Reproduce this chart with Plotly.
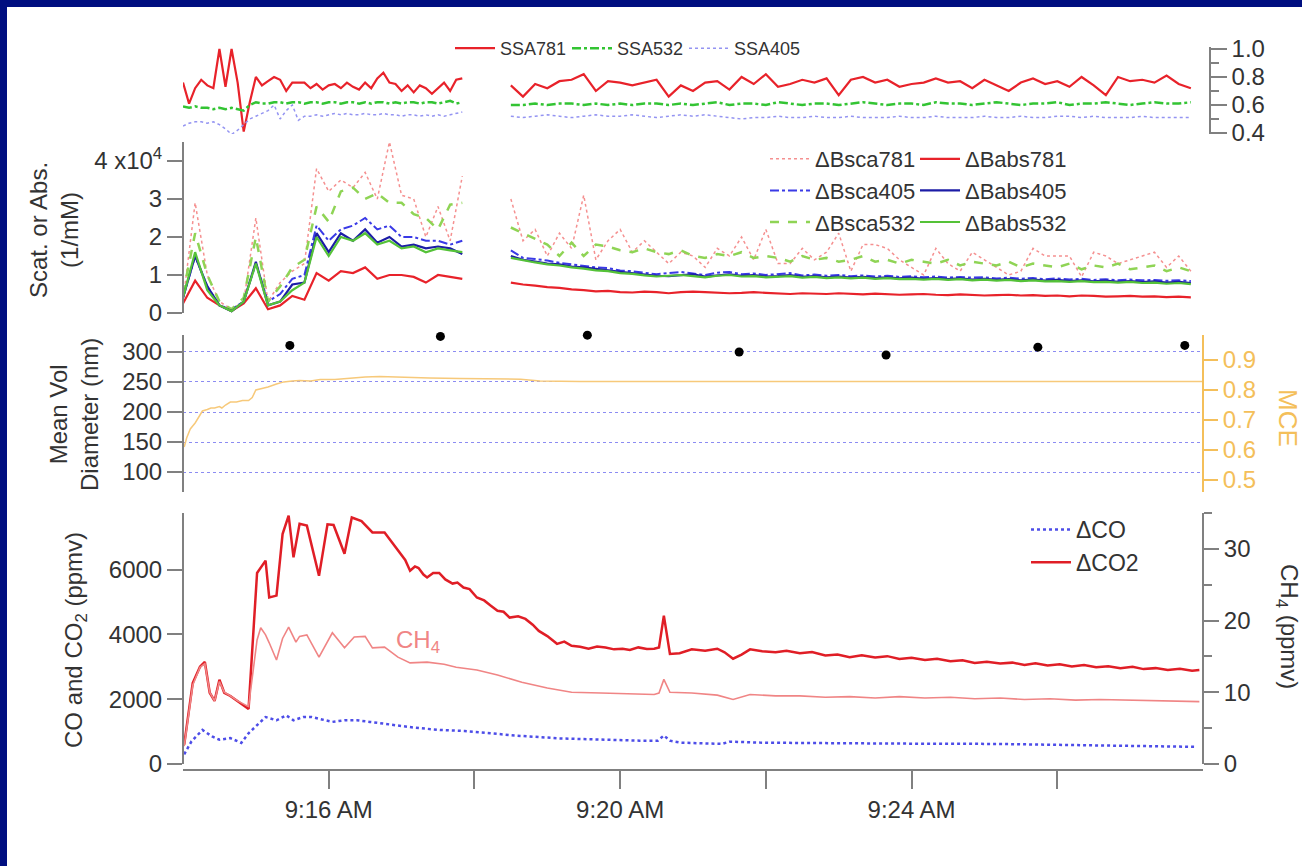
import plotly.graph_objects as go

W, H = 1302, 866

def tstr(s):
    s = int(round(s))
    return f"2024-01-01 09:{14 + s // 60:02d}:{s % 60:02d}"

def px(x):
    return x / W

def py(y):
    return 1 - y / H

# ---------------- SSA panel (values) ----------------
ssa_seg1_start, ssa_seg1_step = 0, 5      # seconds after 9:14:00
ssa_seg2_start, ssa_seg2_step = 270, 10
ssa781_a = [0.76,0.61,0.72,0.78,0.74,0.72,1.00,0.73,1.00,0.76,
            0.41,0.62,0.80,0.74,0.77,0.80,0.78,0.70,0.76,0.76,
            0.76,0.72,0.75,0.71,0.74,0.75,0.72,0.76,0.73,0.71,
            0.76,0.72,0.79,0.83,0.76,0.75,0.70,0.74,0.69,0.74,
            0.72,0.68,0.72,0.76,0.70,0.78,0.79]
ssa532_a = [0.59,0.58,0.59,0.58,0.58,0.57,0.58,0.57,0.58,0.57,
            0.56,0.60,0.62,0.61,0.61,0.62,0.62,0.61,0.62,0.62,
            0.61,0.62,0.62,0.61,0.62,0.62,0.61,0.62,0.62,0.61,
            0.62,0.61,0.62,0.62,0.61,0.62,0.61,0.62,0.62,0.61,
            0.62,0.62,0.61,0.62,0.63,0.61,0.62]
ssa405_a = [0.45,0.47,0.48,0.48,0.47,0.48,0.46,0.43,0.39,0.42,
            0.46,0.50,0.52,0.54,0.56,0.60,0.50,0.56,0.60,0.49,
            0.52,0.52,0.53,0.52,0.53,0.54,0.53,0.54,0.53,0.53,
            0.54,0.53,0.53,0.54,0.53,0.53,0.52,0.53,0.53,0.52,
            0.53,0.52,0.53,0.52,0.53,0.54,0.55]
ssa781_b = [0.74,0.66,0.75,0.72,0.77,0.78,0.82,0.70,0.77,0.76,
            0.74,0.76,0.78,0.66,0.74,0.70,0.76,0.77,0.71,0.80,
            0.75,0.82,0.73,0.75,0.78,0.76,0.79,0.67,0.78,0.80,
            0.76,0.78,0.73,0.75,0.76,0.79,0.76,0.77,0.72,0.78,
            0.74,0.70,0.76,0.79,0.75,0.77,0.73,0.80,0.74,0.67,
            0.80,0.77,0.78,0.76,0.81,0.75,0.72]
ssa532_b = [0.60,0.60,0.61,0.60,0.61,0.61,0.60,0.61,0.60,0.61,
            0.60,0.61,0.61,0.60,0.61,0.60,0.61,0.62,0.60,0.61,
            0.61,0.60,0.62,0.61,0.60,0.61,0.61,0.60,0.61,0.62,
            0.61,0.60,0.61,0.61,0.60,0.62,0.61,0.61,0.60,0.61,
            0.62,0.61,0.60,0.61,0.61,0.62,0.60,0.61,0.61,0.62,
            0.61,0.60,0.61,0.62,0.61,0.61,0.62]
ssa405_b = [0.52,0.51,0.52,0.53,0.52,0.51,0.52,0.53,0.52,0.52,
            0.53,0.52,0.51,0.52,0.53,0.52,0.53,0.52,0.51,0.50,
            0.51,0.51,0.52,0.51,0.51,0.52,0.51,0.51,0.52,0.51,
            0.51,0.51,0.52,0.51,0.51,0.52,0.51,0.51,0.51,0.52,
            0.51,0.51,0.52,0.51,0.51,0.52,0.52,0.51,0.52,0.51,
            0.51,0.51,0.52,0.51,0.51,0.51,0.51]

# ---------------- Scattering / absorption (units of 1e4 1/Mm) ----------------
sc_seg1_start, sc_seg1_step = 0, 10
sc_seg2_start, sc_seg2_step = 270, 10
sca781_a = [0.3,2.9,1.0,0.3,0.1,0.3,2.5,0.3,0.8,1.1,1.3,3.8,3.2,3.5,3.3,3.7,3.0,4.5,3.1,3.0,2.0,2.8,1.9,3.6]
sca405_a = [0.4,1.5,0.7,0.2,0.1,0.3,1.3,0.3,0.5,0.9,1.0,2.3,1.9,2.2,2.3,2.5,2.2,2.3,2.0,2.0,1.9,1.9,1.8,1.9]
sca532_a = [0.5,2.1,1.0,0.3,0.1,0.4,2.0,0.3,0.7,1.2,1.4,2.8,2.4,3.2,3.3,3.0,3.15,2.9,2.9,2.6,2.5,2.2,2.85,2.9]
abs781_a = [0.25,0.85,0.4,0.2,0.05,0.25,0.65,0.1,0.2,0.45,0.35,1.05,0.85,1.1,1.05,1.2,0.9,1.0,1.0,0.95,0.8,1.0,0.95,0.9]
abs405_a = [0.4,1.5,0.7,0.2,0.05,0.3,1.35,0.2,0.3,0.75,0.8,2.1,1.6,2.1,1.9,2.2,1.85,2.0,1.75,1.8,1.7,1.75,1.7,1.55]
abs532_a = [0.4,1.6,0.6,0.2,0.05,0.3,1.3,0.2,0.3,0.6,0.8,2.0,1.5,2.0,1.9,2.1,1.8,1.9,1.7,1.75,1.6,1.7,1.65,1.6]

sca781_b = [3.0,1.9,2.2,1.5,2.1,1.7,3.1,1.4,1.9,2.2,
            1.6,1.9,1.6,1.3,1.6,1.5,1.2,1.7,1.5,2.0,
            1.4,2.2,1.3,1.3,1.7,1.4,1.6,2.1,1.1,1.8,
            1.8,1.7,1.4,1.2,1.0,1.7,1.3,1.1,1.6,1.4,
            1.2,1.0,1.1,1.7,1.5,1.5,1.5,0.95,1.6,1.5,
            1.3,1.4,1.5,1.6,1.2,1.5,1.1]
sca405_b = [1.65,1.45,1.42,1.38,1.32,1.28,1.25,1.20,1.18,1.12,
            1.10,1.06,1.02,1.05,1.08,1.04,1.00,1.06,1.08,1.02,
            1.04,1.00,1.03,1.05,0.99,1.01,0.98,1.00,0.97,0.99,
            0.96,0.98,0.95,0.97,0.94,0.96,0.93,0.95,0.93,0.94,
            0.91,0.93,0.90,0.92,0.89,0.91,0.88,0.90,0.87,0.89,
            0.86,0.88,0.86,0.87,0.85,0.86,0.84]
sca532_b = [2.25,2.10,1.95,1.80,1.50,1.85,1.50,1.80,1.75,1.65,
            1.60,1.70,1.60,1.55,1.65,1.50,1.45,1.55,1.50,1.60,
            1.45,1.50,1.45,1.35,1.50,1.40,1.45,1.35,1.40,1.50,
            1.35,1.40,1.30,1.40,1.35,1.30,1.40,1.25,1.35,1.30,
            1.25,1.35,1.20,1.30,1.25,1.20,1.30,1.15,1.25,1.20,
            1.30,1.15,1.20,1.25,1.10,1.20,1.10]
abs781_b = [0.80,0.75,0.72,0.68,0.66,0.62,0.60,0.57,0.58,0.55,
            0.54,0.56,0.55,0.52,0.55,0.56,0.55,0.54,0.52,0.53,
            0.55,0.53,0.52,0.50,0.52,0.51,0.50,0.52,0.50,0.49,
            0.51,0.50,0.48,0.49,0.50,0.48,0.47,0.49,0.48,0.46,
            0.47,0.48,0.46,0.47,0.45,0.46,0.44,0.46,0.45,0.43,
            0.44,0.45,0.43,0.44,0.42,0.43,0.41]
abs405_b = [1.50,1.40,1.35,1.30,1.28,1.22,1.20,1.15,1.12,1.08,
            1.05,1.02,0.98,0.97,1.00,1.02,0.96,0.99,1.02,0.98,
            1.00,0.96,0.97,1.00,0.95,0.97,0.94,0.96,0.93,0.95,
            0.92,0.94,0.91,0.93,0.90,0.92,0.89,0.91,0.88,0.90,
            0.87,0.89,0.86,0.88,0.85,0.87,0.84,0.86,0.83,0.85,
            0.82,0.84,0.81,0.83,0.80,0.82,0.79]
abs532_b = [1.45,1.38,1.33,1.28,1.25,1.20,1.17,1.12,1.10,1.05,
            1.03,0.99,0.96,0.98,1.00,0.97,0.94,0.98,1.00,0.96,
            0.97,0.94,0.96,0.97,0.93,0.95,0.92,0.94,0.91,0.93,
            0.90,0.92,0.89,0.90,0.88,0.90,0.87,0.89,0.86,0.88,
            0.85,0.87,0.84,0.86,0.83,0.84,0.82,0.84,0.81,0.82,
            0.80,0.82,0.79,0.80,0.77,0.79,0.76]

# ---------------- Diameter & MCE ----------------
diam_t = [88, 212, 333, 458, 579, 704, 825]
diam_v = [311, 326, 328, 300, 295, 308, 311]
mce_t = [1,3,6,10,13,16,20,23,26,30,32,35,39,44,49,54,57,60,65,70,77,83,90,96,105,113,125,
         138,150,162,175,187,203,228,253,278,294,327,385,467,549,632,714,796,840]
mce_v = [0.61,0.64,0.67,0.69,0.71,0.73,0.735,0.74,0.74,0.745,0.74,0.75,0.76,0.76,0.765,0.765,
         0.775,0.80,0.805,0.81,0.82,0.827,0.83,0.832,0.83,0.835,0.835,0.84,0.843,0.845,0.843,
         0.84,0.84,0.838,0.837,0.836,0.83,0.828,0.828,0.828,0.828,0.828,0.828,0.828,0.828]

# ---------------- Gases ----------------
co2_t = [1,8,14,18,22,26,30,34,39,45,54,61,68,71,77,82,87,91,96,102,112,119,124,133,139,147,156,166,
         177,183,187,191,194,198,201,206,211,216,222,226,231,236,242,248,253,259,264,269,276,282,288,
         293,300,308,314,320,327,334,341,348,355,362,368,375,382,388,392,396,401,409,419,430,440,446,
         453,460,467,477,488,497,508,518,529,539,549,559,570,580,590,600,611,621,632,642,652,662,673,
         683,693,702,712,722,732,742,752,762,772,782,791,801,811,821,831,837]
co2_v = [600,2500,3000,3150,2200,1950,2600,2200,2100,1950,1700,5900,6280,5140,5200,7100,7670,6380,
         7420,7360,5810,7400,7380,6490,7610,7500,7150,7150,6590,6300,5970,6100,6050,5850,5760,5900,
         5900,5700,5570,5600,5450,5400,5140,5050,4900,4730,4700,4520,4560,4480,4300,4110,3950,3710,
         3780,3650,3620,3560,3630,3600,3540,3560,3520,3600,3550,3560,3600,4580,3400,3420,3540,3500,
         3560,3450,3250,3380,3540,3480,3450,3500,3420,3460,3350,3380,3300,3360,3290,3330,3240,3280,
         3210,3250,3170,3200,3120,3160,3100,3130,3060,3110,3040,3080,3010,3060,2990,3020,2960,3000,
         2930,2960,2900,2940,2880,2900]
ch4_t = [1,8,14,18,22,26,30,34,39,45,54,61,64,68,71,77,82,87,93,96,102,112,123,133,141,150,156,166,
         177,187,201,215,225,242,259,279,300,320,344,368,388,392,396,401,419,440,453,467,488,508,529,
         549,570,590,611,632,652,673,693,714,735,755,776,796,817,837]
ch4_v = [2.5,11,13.5,14.0,10,8.8,11.5,10,9.5,8.8,8.0,17.3,19.0,18.0,16.9,14.5,17.5,19.1,17.0,17.8,
         18.0,14.9,18.3,16.2,17.7,17.8,16.2,16.3,14.9,14.1,14.2,13.9,13.5,13.1,12.4,11.4,10.6,10.0,
         9.9,9.8,9.7,9.9,11.8,10.0,9.9,9.6,9.0,9.7,9.5,9.5,9.3,9.4,9.2,9.4,9.2,9.3,9.1,9.2,9.0,9.1,
         8.9,9.0,8.9,8.9,8.8,8.7]
co_t = [1,7,16,24,30,39,48,54,61,68,77,85,91,99,106,113,123,133,143,154,164,177,191,212,232,253,273,
        294,310,328,352,376,391,396,401,410,426,444,450,475,508,533,590,669,755,833]
co_v = [300,700,1050,850,750,800,650,950,1200,1450,1350,1500,1350,1450,1450,1380,1300,1350,1350,1300,
        1250,1200,1120,1050,1020,950,880,830,790,770,740,720,720,880,720,660,640,620,690,660,650,650,
        630,620,580,530]

x_tickvals = [120, 360, 600]
x_ticktext = ["9:16 AM", "9:20 AM", "9:24 AM"]
x_minorvals = [240, 480, 720]

# ---------------- styling ----------------
FONT = "Arial, 'Liberation Sans', sans-serif"
TXT = "#333333"
AX = "#808080"
NAVY = "#000e80"
ORANGE = "#f4bf5a"

def seg_x(start, step, n):
    return [tstr(start + step * i) for i in range(n)]

def two_seg(a, b, s1, st1, s2, st2):
    xs = seg_x(s1, st1, len(a)) + [tstr(250)] + seg_x(s2, st2, len(b))
    ys = list(a) + [None] + list(b)
    return xs, ys

fig = go.Figure()

def add(xs, ys, name, color, width, dash, yaxis, legend=None):
    fig.add_trace(go.Scatter(
        x=xs, y=ys, name=name, mode="lines", connectgaps=False,
        line=dict(color=color, width=width, dash=dash),
        xaxis="x", yaxis=yaxis,
        legend=legend if legend else "legend", showlegend=legend is not None))

# SSA
for a, b, name, col, w, d in [
        (ssa781_a, ssa781_b, "SSA781", "#e8222a", 2.2, "solid"),
        (ssa532_a, ssa532_b, "SSA532", "#33c433", 2.5, "dashdot"),
        (ssa405_a, ssa405_b, "SSA405", "#9494f2", 1.5, "dot")]:
    xs, ys = two_seg(a, b, ssa_seg1_start, ssa_seg1_step, ssa_seg2_start, ssa_seg2_step)
    add(xs, ys, name, col, w, d, "y", "legend")

# Scat / abs
for a, b, name, col, w, d, lg in [
        (sca781_a, sca781_b, "ΔBsca781", "#f59090", 1.5, "dot", "legend2"),
        (sca405_a, sca405_b, "ΔBsca405", "#3a3ae6", 2.0, "dashdot", "legend2"),
        (sca532_a, sca532_b, "ΔBsca532", "#8fd455", 2.5, "dash", "legend2"),
        (abs781_a, abs781_b, "ΔBabs781", "#e8222a", 2.2, "solid", "legend3"),
        (abs405_a, abs405_b, "ΔBabs405", "#1c1ca6", 2.2, "solid", "legend3"),
        (abs532_a, abs532_b, "ΔBabs532", "#55c238", 2.2, "solid", "legend3")]:
    xs, ys = two_seg(a, b, sc_seg1_start, sc_seg1_step, sc_seg2_start, sc_seg2_step)
    add(xs, ys, name, col, w, d, "y2", lg)

# MCE & diameter
add([tstr(t) for t in mce_t], mce_v, "MCE", "#f7c97a", 1.5, "solid", "y4")
fig.add_trace(go.Scatter(x=[tstr(t) for t in diam_t], y=diam_v, mode="markers",
                         marker=dict(color="black", size=9), xaxis="x", yaxis="y3",
                         showlegend=False, cliponaxis=False))

# Gases
add([tstr(t) for t in ch4_t], ch4_v, "CH4", "#f08585", 1.6, "solid", "y6")
add([tstr(t) for t in co_t], co_v, "ΔCO", "#4d4de8", 2.5, "dot", "y5", "legend4")
add([tstr(t) for t in co2_t], co2_v, "ΔCO2", "#e01e26", 2.5, "solid", "y5", "legend4")

TICKF = dict(size=24, color=TXT)
common_y = dict(showline=True, linecolor=AX, linewidth=2, ticks="outside", tickcolor=AX,
                tickwidth=1.5, showgrid=False, zeroline=False, anchor="free",
                tickfont=TICKF)

legend_common = dict(bgcolor="rgba(0,0,0,0)", font=dict(size=22, color=TXT), itemwidth=40,
                     xanchor="left", yanchor="top", tracegroupgap=0)

fig.update_layout(
    template="none", width=W, height=H, margin=dict(l=0, r=0, t=0, b=0),
    paper_bgcolor=NAVY, plot_bgcolor="rgba(0,0,0,0)",
    font=dict(family=FONT, size=22, color=TXT),
    shapes=[dict(type="rect", xref="paper", yref="paper", x0=px(7), x1=1, y0=0, y1=py(7),
                 fillcolor="white", line=dict(width=0), layer="below")],
    xaxis=dict(type="date", domain=[px(183), px(1203)], range=[tstr(0), tstr(840)],
               anchor="free", position=py(770), showline=True, linecolor=AX, linewidth=2,
               ticks="outside", ticklen=18, tickwidth=1.5, tickcolor=AX,
               tickvals=[tstr(t) for t in x_tickvals], ticktext=x_ticktext,
               minor=dict(tickvals=[tstr(t) for t in x_minorvals], ticklen=18, ticks="outside",
                          tickcolor=AX, tickwidth=1.5),
               showgrid=False, zeroline=False, tickfont=TICKF),
    yaxis=dict(common_y, domain=[py(134), py(47)], range=[0.393, 1.014], side="right",
               position=px(1210), ticklen=16, linewidth=1.5,
               tickvals=[0.4, 0.6, 0.8, 1.0], ticktext=["0.4", "0.6", "0.8", "1.0"],
               minor=dict(tickvals=[0.5, 0.7, 0.9], ticklen=8, ticks="outside", tickcolor=AX)),
    yaxis2=dict(common_y, domain=[py(313), py(142)], range=[0, 4.5], side="left",
                position=px(183), ticklen=15,
                tickvals=[0, 1, 2, 3, 4], ticktext=["0", "1", "2", "3", "4 x10<sup>4</sup>"]),
    yaxis3=dict(common_y, domain=[py(492), py(335)], range=[66.7, 328.3], side="left",
                position=px(183), ticklen=15, tickvals=[100, 150, 200, 250, 300],
                showgrid=True, gridcolor="#8c8cf2", griddash="dot", gridwidth=1),
    yaxis4=dict(common_y, domain=[py(492), py(335)], range=[0.46, 0.9833], side="right",
                overlaying="y3", position=px(1203), ticklen=14, linecolor=ORANGE,
                tickcolor=ORANGE, tickvals=[0.5, 0.6, 0.7, 0.8, 0.9],
                tickfont=dict(size=24, color=ORANGE)),
    yaxis5=dict(common_y, domain=[py(764), py(513)], range=[0, 7750], side="left",
                position=px(183), ticklen=15, tickvals=[0, 2000, 4000, 6000]),
    yaxis6=dict(common_y, domain=[py(764), py(513)], range=[0, 35], side="right",
                overlaying="y5", position=px(1203), ticklen=15, tickvals=[0, 10, 20, 30],
                minor=dict(tickvals=[5, 15, 25, 35], ticklen=8, ticks="outside", tickcolor=AX)),
    legend=dict(legend_common, orientation="h", x=px(450), y=py(30), entrywidth=62,
                font=dict(size=18, color=TXT)),
    legend2=dict(legend_common, x=px(765), y=py(138)),
    legend3=dict(legend_common, x=px(915), y=py(138)),
    legend4=dict(legend_common, x=px(1026), y=py(508), font=dict(size=23, color=TXT)),
    annotations=[
        dict(text="Scat. or Abs.<br>(1/mM)", x=px(54), y=py(230), textangle=-90,
             font=dict(size=24, color=TXT)),
        dict(text="Mean Vol<br>Diameter (nm)", x=px(74), y=py(415), textangle=-90,
             font=dict(size=24, color=TXT)),
        dict(text="CO and CO<sub>2</sub> (ppmv)", x=px(75), y=py(640), textangle=-90,
             font=dict(size=24, color=TXT)),
        dict(text="MCE", x=px(1288), y=py(418), textangle=90,
             font=dict(size=26, color=ORANGE)),
        dict(text="CH<sub>4</sub> (ppmv)", x=px(1288), y=py(626), textangle=90,
             font=dict(size=24, color=TXT)),
        dict(text="CH<sub>4</sub>", x=px(418), y=py(641), font=dict(size=24, color="#f08585")),
    ],
)
for a in fig.layout.annotations:
    a.update(xref="paper", yref="paper", showarrow=False, xanchor="center", yanchor="middle")

fig.write_html("out.html", include_plotlyjs=True, config={"displayModeBar": False})
